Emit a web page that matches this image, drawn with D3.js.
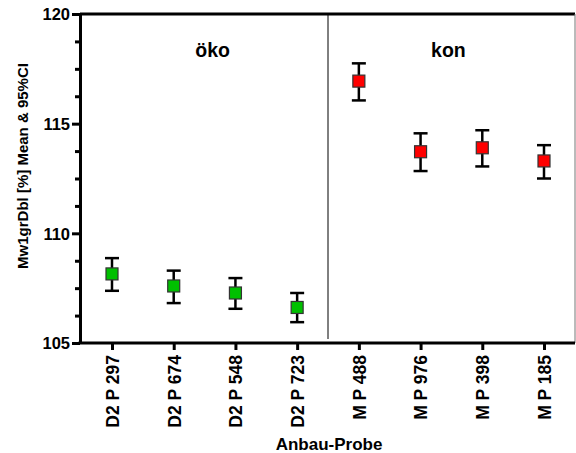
<!DOCTYPE html>
<html>
<head>
<meta charset="utf-8">
<script src="https://d3js.org/d3.v7.min.js"></script>
<style>
    body { margin: 0; background: #fff; }
    svg { display: block; font-family: "Liberation Sans", Arial, sans-serif; }
</style>
</head>
<body>
<svg width="576" height="453"></svg>
<script>
    // data
    const samples = ["D2 P 297", "D2 P 674", "D2 P 548", "D2 P 723", "M P 488", "M P 976", "M P 398", "M P 185"]
    const groups = ["oeko", "oeko", "oeko", "oeko", "kon", "kon", "kon", "kon"]
    const means = [108.15, 107.6, 107.28, 106.62, 116.94, 113.72, 113.9, 113.3]
    const lower = [107.38, 106.82, 106.56, 105.95, 116.06, 112.84, 113.05, 112.5]
    const upper = [108.87, 108.3, 107.96, 107.28, 117.75, 114.56, 114.7, 114.02]
    const yTicks = [105, 110, 115, 120]
    const groupLabels = ["öko", "kon"]

    const colors = { oeko: "#00c000", kon: "#ff0000" }
    const font = '"Liberation Sans", Arial, sans-serif'

    let rows = samples.map((s, i) => ({ name: s, group: groups[i], mean: means[i], lo: lower[i], hi: upper[i] }))

    let svg = d3.select("svg")
    const pLeft = 80, pRight = 575, pTop = 14, pBottom = 343

    let x = d3.scalePoint().domain(samples).range([112, 544])
    let y = d3.scaleLinear().domain([105, 120]).range([pBottom, pTop])

    // frame: thick top line, thin right line
    svg.append("line").attr("x1", pLeft).attr("x2", pRight).attr("y1", pTop).attr("y2", pTop)
        .attr("stroke", "#000").attr("stroke-width", 3)
    svg.append("line").attr("x1", pRight).attr("x2", pRight).attr("y1", pTop).attr("y2", pBottom)
        .attr("stroke", "#777").attr("stroke-width", 1)

    // divider between the two groups
    let mid = (x(samples[3]) + x(samples[4])) / 2
    svg.append("line").attr("x1", mid).attr("x2", mid).attr("y1", pTop).attr("y2", pBottom - 4)
        .attr("stroke", "#000").attr("stroke-width", 1)

    // minor y ticks
    let minor = d3.range(105, 120.01, 1.25).filter(v => !yTicks.includes(v))
    svg.append("g").attr("transform", `translate(${pLeft},0)`)
        .call(d3.axisLeft(y).tickValues(minor).tickSize(5).tickFormat(""))
        .call(g => g.select(".domain").remove())
        .selectAll("line").attr("stroke-width", 3)

    // y axis
    let yAxis = svg.append("g").attr("transform", `translate(${pLeft},0)`)
        .call(d3.axisLeft(y).tickValues(yTicks).tickSize(8).tickSizeOuter(0).tickPadding(2))
        .attr("font-family", font).attr("font-size", 16.5)
    yAxis.select(".domain").attr("stroke-width", 3)
    yAxis.selectAll("line").attr("stroke-width", 3)
    yAxis.selectAll("text").attr("fill", "#000").attr("dy", "0.36em").style("font-weight", "bold")

    // x axis
    let xAxis = svg.append("g").attr("transform", `translate(0,${pBottom})`)
        .call(d3.axisBottom(x).tickSize(7).tickSizeOuter(0))
        .attr("font-family", font).attr("font-size", 17.5)
    xAxis.select(".domain").attr("d", `M${pLeft - 1.5},0H${pRight}`).attr("stroke-width", 3)
    xAxis.selectAll("line").attr("stroke-width", 3)
    xAxis.selectAll("text")
        .attr("fill", "#000")
        .style("font-weight", "bold")
        .attr("text-anchor", "end")
        .attr("transform", "rotate(-90)")
        .attr("x", -12)
        .attr("y", 0)
        .attr("dy", "0.36em")

    // axis titles
    svg.append("text").attr("x", 329).attr("y", 450)
        .attr("text-anchor", "middle").attr("font-weight", "bold").attr("font-size", 17)
        .text("Anbau-Probe")
    svg.append("text")
        .attr("transform", "translate(28,166) rotate(-90)")
        .attr("text-anchor", "middle").attr("font-weight", "bold").attr("font-size", 15)
        .text("Mw1grDbl [%] Mean & 95%CI")

    // group labels
    svg.selectAll("text.grp").data(groupLabels).enter().append("text")
        .attr("class", "grp")
        .attr("x", (d, i) => i == 0 ? (x(samples[1]) + x(samples[2])) / 2 + 8 : (x(samples[5]) + x(samples[6])) / 2 - 3)
        .attr("y", 57)
        .attr("text-anchor", "middle").attr("font-weight", "bold").attr("font-size", 19.5)
        .text(d => d)

    // error bars
    let pts = svg.selectAll("g.pt").data(rows).enter().append("g").attr("class", "pt")
    pts.append("line")
        .attr("x1", d => x(d.name)).attr("x2", d => x(d.name))
        .attr("y1", d => y(d.lo)).attr("y2", d => y(d.hi))
        .attr("stroke", "#000").attr("stroke-width", 2.5)
    pts.append("line")
        .attr("x1", d => x(d.name) - 7).attr("x2", d => x(d.name) + 7)
        .attr("y1", d => y(d.hi)).attr("y2", d => y(d.hi))
        .attr("stroke", "#000").attr("stroke-width", 2.5)
    pts.append("line")
        .attr("x1", d => x(d.name) - 7).attr("x2", d => x(d.name) + 7)
        .attr("y1", d => y(d.lo)).attr("y2", d => y(d.lo))
        .attr("stroke", "#000").attr("stroke-width", 2.5)
    pts.append("rect")
        .attr("x", d => x(d.name) - 6).attr("y", d => y(d.mean) - 6)
        .attr("width", 12).attr("height", 12)
        .attr("fill", d => colors[d.group])
        .attr("stroke", "#333").attr("stroke-width", 1.2)
</script>
</body>
</html>
